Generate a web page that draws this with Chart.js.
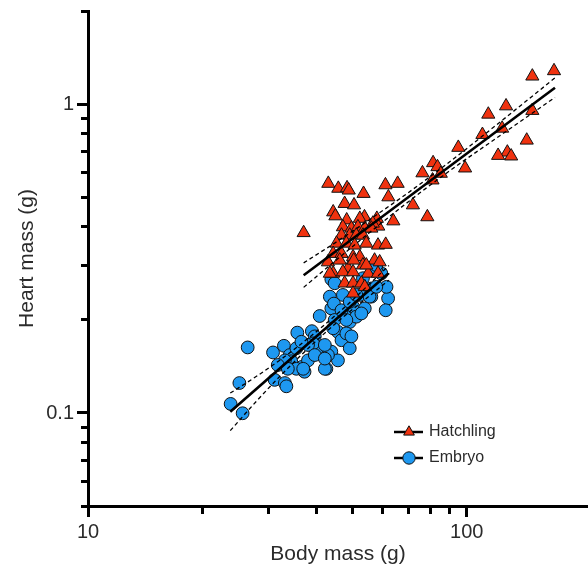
<!DOCTYPE html>
<html>
<head>
<meta charset="utf-8">
<script src="https://cdn.jsdelivr.net/npm/chart.js@4.4.1/dist/chart.umd.min.js"></script>
<style>
  html, body { margin: 0; padding: 0; background: #fff; }
  #wrap { width: 588px; height: 569px; position: relative; }
</style>
</head>
<body>
<div id="wrap"><canvas id="chart"></canvas></div>
<script>
// Hatchlings (body mass g, heart mass g)
const hatchMass = [170, 149, 127, 114, 149, 124, 110, 144, 128, 121, 131, 95, 99, 81.5, 83.7, 76.4, 85.4, 81.2, 78.7, 72.1,
  64.0, 61.0, 65.7, 62.1, 43.1, 45.8, 48.3, 48.8, 53.4, 47.6, 50.4, 44.4, 45.0, 37.1, 48.2, 53.7, 57.9, 58.4, 52.2, 56.5,
  47.1, 49.6, 51.6, 53.8, 56.0, 46.7, 49.1, 51.1, 53.2, 45.3, 48.1, 50.6, 54.3, 58.3, 61.1, 44.4, 46.7, 50.1, 52.2, 57.1,
  58.9, 43.0, 48.6, 53.2, 54.9, 58.3, 44.4, 47.1, 50.1, 47.6, 50.1, 52.7, 53.8, 50.1, 50.3, 46.2, 43.5, 54.3];
const hatchHeart = [1.28, 1.23, 0.985, 0.926, 0.952, 0.834, 0.796, 0.763, 0.698, 0.681, 0.678, 0.723, 0.620, 0.645, 0.626, 0.598, 0.596, 0.567, 0.431, 0.471,
  0.418, 0.547, 0.553, 0.500, 0.553, 0.533, 0.535, 0.526, 0.513, 0.476, 0.471, 0.447, 0.434, 0.383, 0.421, 0.431, 0.426, 0.402, 0.426, 0.411,
  0.400, 0.396, 0.400, 0.396, 0.396, 0.376, 0.376, 0.376, 0.376, 0.354, 0.354, 0.349, 0.354, 0.349, 0.351, 0.328, 0.328, 0.320, 0.320, 0.312,
  0.308, 0.308, 0.294, 0.301, 0.283, 0.283, 0.283, 0.286, 0.286, 0.263, 0.263, 0.263, 0.256, 0.244, 0.312, 0.312, 0.283, 0.301];

// Embryos
const embryoMass = [26.4, 25.1, 30.8, 32.9, 34.1, 35.7, 35.5, 36.7, 38.1, 39.0, 39.7, 40.9, 41.3, 42.6, 43.5, 43.9, 44.8, 45.7, 46.7, 47.1,
  47.6, 49.1, 49.1, 43.9, 45.7, 43.0, 50.1, 51.1, 52.2, 53.8, 56.0, 56.0, 59.5, 62.0, 61.1, 39.3, 38.1, 36.6, 34.4, 33.1,
  31.7, 31.1, 33.1, 35.5, 37.3, 39.7, 42.2, 44.4, 48.1, 49.6, 52.7, 43.9, 57.7, 53.2, 23.8, 25.6, 33.4, 33.7, 37.0, 42.2,
  42.2, 61.4, 57.7, 44.6, 46.7, 48.1, 55.4, 57.7, 49.1, 51.1, 44.8];
const embryoHeart = [0.163, 0.125, 0.157, 0.165, 0.154, 0.182, 0.162, 0.141, 0.148, 0.184, 0.177, 0.206, 0.158, 0.139, 0.238, 0.218, 0.200, 0.183, 0.172, 0.241,
  0.210, 0.197, 0.162, 0.158, 0.148, 0.154, 0.221, 0.205, 0.241, 0.218, 0.253, 0.238, 0.283, 0.235, 0.215, 0.168, 0.166, 0.170, 0.147, 0.148,
  0.143, 0.128, 0.125, 0.139, 0.136, 0.154, 0.166, 0.188, 0.181, 0.177, 0.210, 0.271, 0.294, 0.273, 0.107, 0.0998, 0.122, 0.139, 0.139, 0.139,
  0.150, 0.256, 0.301, 0.226, 0.215, 0.200, 0.238, 0.256, 0.229, 0.241, 0.263];

// Fitted lines and 95% bands
const hatchFitMass = [37.1, 171];
const hatchFitHeart = [0.279, 1.129];
const hatchBandMass = [37.1, 45, 55, 70, 90, 120, 171];
const hatchBandUpper = [0.306, 0.356, 0.420, 0.516, 0.649, 0.857, 1.215];
const hatchBandLower = [0.255, 0.311, 0.381, 0.482, 0.607, 0.777, 1.050];

const embryoFitMass = [23.75, 62.3];
const embryoFitHeart = [0.101, 0.284];
const embryoBandMass = [23.75, 28, 33, 40, 48, 56, 62.3];
const embryoBandUpper = [0.116, 0.132, 0.152, 0.183, 0.222, 0.265, 0.300];
const embryoBandLower = [0.0877, 0.110, 0.136, 0.171, 0.208, 0.242, 0.269];

// Axis ticks
const xTicks = [10, 20, 30, 40, 50, 60, 70, 80, 90, 100];
const xLabels = [10, 100];
const yTicks = [0.05, 0.06, 0.07, 0.08, 0.09, 0.1, 0.2, 0.3, 0.4, 0.5, 0.6, 0.7, 0.8, 0.9, 1, 2];
const yLabels = [0.1, 1];

const legendRows = [
  { label: 'Hatchling', style: 'triangle', fill: '#f0320f' },
  { label: 'Embryo', style: 'circle', fill: '#1e98f0' }
];

const FONT = "'Liberation Sans', Arial, sans-serif";
const TEXT = '#2b2b2b';

const pairs = (xs, ys) => xs.map((x, i) => ({ x: x, y: ys[i] }));

const lineSet = (xs, ys, dashed) => ({
  data: pairs(xs, ys),
  showLine: true,
  pointRadius: 0,
  borderColor: '#000',
  borderWidth: dashed ? 1.3 : 2.6,
  borderDash: dashed ? [4, 3] : [],
  cubicInterpolationMode: 'monotone',
  order: 0
});

// legend with a line through each marker
const lineLegend = {
  id: 'lineLegend',
  afterDraw(chart) {
    const ctx = chart.ctx;
    legendRows.forEach((row, i) => {
      const y = 432 + i * 26;
      ctx.save();
      ctx.strokeStyle = '#000';
      ctx.lineWidth = 2.5;
      ctx.beginPath();
      ctx.moveTo(394, y);
      ctx.lineTo(423, y);
      ctx.stroke();
      ctx.fillStyle = row.fill;
      ctx.strokeStyle = '#111';
      ctx.lineWidth = 1;
      Chart.helpers.drawPoint(ctx, { pointStyle: row.style, radius: 6.2, borderWidth: 1, rotation: 0 }, 409, y);
      ctx.fillStyle = TEXT;
      ctx.font = '16px ' + FONT;
      ctx.textBaseline = 'middle';
      ctx.fillText(row.label, 429, y);
      ctx.restore();
    });
  }
};

new Chart(document.getElementById('chart'), {
  type: 'scatter',
  data: {
    datasets: [
      lineSet(hatchFitMass, hatchFitHeart, false),
      lineSet(hatchBandMass, hatchBandUpper, true),
      lineSet(hatchBandMass, hatchBandLower, true),
      lineSet(embryoFitMass, embryoFitHeart, false),
      lineSet(embryoBandMass, embryoBandUpper, true),
      lineSet(embryoBandMass, embryoBandLower, true),
      {
        label: 'Hatchling',
        data: pairs(hatchMass, hatchHeart),
        pointStyle: 'triangle',
        pointRadius: 7.6,
        backgroundColor: '#f0320f',
        borderColor: '#111',
        borderWidth: 1,
        order: 1
      },
      {
        label: 'Embryo',
        data: pairs(embryoMass, embryoHeart),
        pointStyle: 'circle',
        pointRadius: 6.4,
        backgroundColor: '#1e98f0',
        borderColor: '#111',
        borderWidth: 1,
        order: 2
      }
    ]
  },
  options: {
    responsive: true,
    maintainAspectRatio: false,
    animation: false,
    layout: { autoPadding: false, padding: { top: 11, right: 0, left: 0, bottom: 0 } },
    plugins: {
      legend: { display: false },
      tooltip: { enabled: false }
    },
    scales: {
      x: {
        type: 'logarithmic',
        min: 10,
        max: 209,
        afterBuildTicks: s => { s.ticks = xTicks.map(v => ({ value: v })); },
        afterFit: s => { s.height = 63; s.paddingLeft = 0; s.paddingRight = 0; },
        border: { display: true, color: '#000', width: 3 },
        grid: {
          drawOnChartArea: false,
          drawTicks: true,
          tickLength: 11,
          tickWidth: 3,
          tickColor: '#000',
          tickBorderDash: ctx => xLabels.includes(ctx.tick.value) ? [] : [6, 50]
        },
        ticks: {
          autoSkip: false,
          maxRotation: 0,
          padding: 3,
          color: TEXT,
          font: { family: FONT, size: 20 },
          callback: v => xLabels.includes(v) ? String(v) : ''
        },
        title: {
          display: true,
          text: 'Body mass (g)',
          color: TEXT,
          font: { family: FONT, size: 21 },
          padding: { top: 0, bottom: 2 }
        }
      },
      y: {
        type: 'logarithmic',
        min: 0.05,
        max: 2,
        afterBuildTicks: s => { s.ticks = yTicks.map(v => ({ value: v })); },
        afterFit: s => { s.width = 88; s.paddingTop = 0; s.paddingBottom = 0; },
        border: { display: true, color: '#000', width: 3 },
        grid: {
          drawOnChartArea: false,
          drawTicks: true,
          tickLength: 11,
          tickWidth: 3,
          tickColor: '#000',
          tickBorderDash: ctx => yLabels.includes(ctx.tick.value) ? [] : [0, 4, 50, 0]
        },
        ticks: {
          autoSkip: false,
          padding: 3,
          color: TEXT,
          font: { family: FONT, size: 20 },
          callback: v => yLabels.includes(v) ? String(v) : ''
        },
        title: {
          display: true,
          text: 'Heart mass (g)',
          color: TEXT,
          font: { family: FONT, size: 21 },
          padding: { top: 15, bottom: 0 }
        }
      }
    }
  },
  plugins: [lineLegend]
});
</script>
</body>
</html>
